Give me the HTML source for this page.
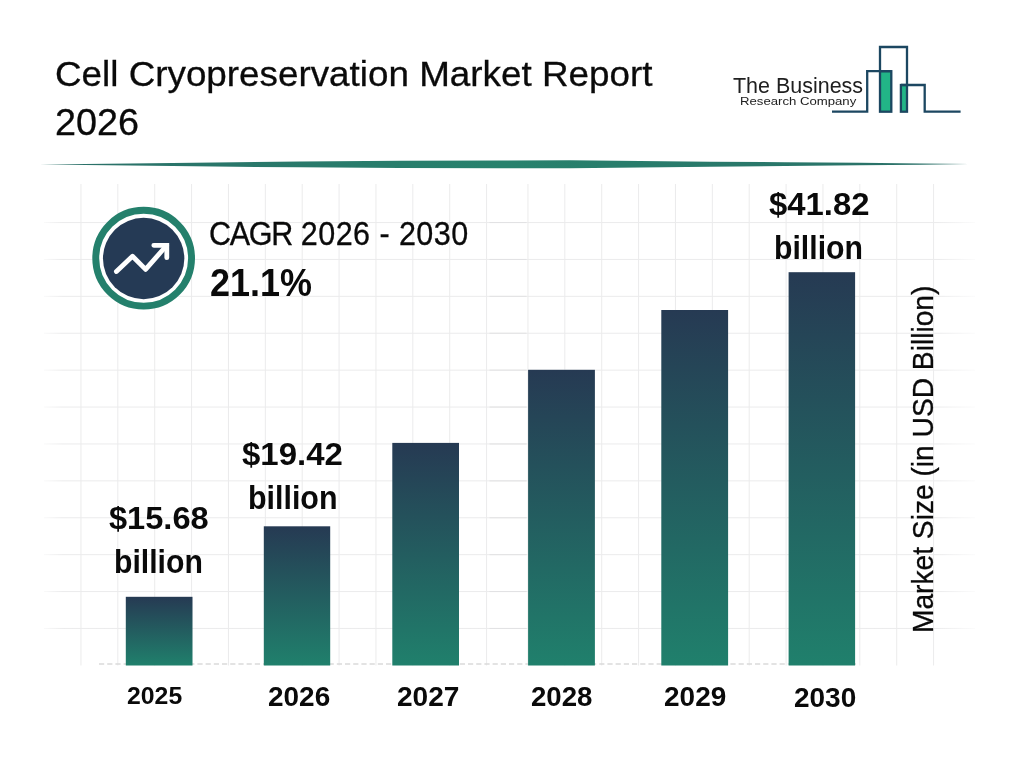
<!DOCTYPE html>
<html lang="en">
<head>
<meta charset="utf-8">
<title>Cell Cryopreservation Market Report 2026</title>
<style>
html,body{margin:0;padding:0;background:#fff;}
body{width:1024px;height:768px;position:relative;overflow:hidden;font-family:"Liberation Sans",Arial,sans-serif;}
#chart{position:absolute;left:0;top:0;width:1024px;height:768px;}
.tx{position:absolute;white-space:nowrap;line-height:1;transform-origin:0 50%;margin:0;padding:0;}
#ylab{position:absolute;white-space:nowrap;line-height:1;font-size:30px;color:#0a0a0a;transform-origin:0 0;-webkit-text-stroke:0.3px;}
</style>
</head>
<body>
<svg id="chart" width="1024" height="768" viewBox="0 0 1024 768">
<defs>
<linearGradient id="barg" x1="0" y1="0" x2="0" y2="1">
<stop offset="0" stop-color="#263a53"/>
<stop offset="1" stop-color="#20806c"/>
</linearGradient>
<linearGradient id="hfade" x1="0" y1="0" x2="1" y2="0">
<stop offset="0" stop-color="#ebebec" stop-opacity="0.3"/>
<stop offset="0.02" stop-color="#ebebec"/>
<stop offset="0.96" stop-color="#ebebec"/>
<stop offset="1" stop-color="#ebebec" stop-opacity="0.2"/>
</linearGradient>
<linearGradient id="divg" x1="0" y1="0" x2="1" y2="0">
<stop offset="0" stop-color="#2b6f68"/>
<stop offset="0.5" stop-color="#27826d"/>
<stop offset="1" stop-color="#2b6f68"/>
</linearGradient>
</defs>
<!-- divider -->
<path d="M40.0 164.60 L85.0 164.07 L130.0 163.54 L215.0 162.49 L300.0 161.53 L400.0 160.72 L500.0 160.40 L570.0 160.36 L640.0 160.96 L710.0 161.67 L785.0 162.27 L860.0 162.82 L920.0 163.43 L968.5 164.00 L920.0 164.63 L860.0 165.32 L785.0 165.97 L710.0 166.67 L640.0 167.46 L570.0 168.16 L500.0 168.20 L400.0 168.02 L300.0 167.33 L215.0 166.49 L130.0 165.54 L85.0 165.07 Z" fill="url(#divg)"/>
<!-- grid -->
<g>
<rect x="80.45" y="184" width="1" height="481.5" fill="#ebebec"/>
<rect x="117.33" y="184" width="1" height="481.5" fill="#ebebec"/>
<rect x="154.20" y="184" width="1" height="481.5" fill="#ebebec"/>
<rect x="191.07" y="184" width="1" height="481.5" fill="#ebebec"/>
<rect x="227.95" y="184" width="1" height="481.5" fill="#ebebec"/>
<rect x="264.82" y="184" width="1" height="481.5" fill="#ebebec"/>
<rect x="301.70" y="184" width="1" height="481.5" fill="#ebebec"/>
<rect x="338.57" y="184" width="1" height="481.5" fill="#ebebec"/>
<rect x="375.45" y="184" width="1" height="481.5" fill="#ebebec"/>
<rect x="412.32" y="184" width="1" height="481.5" fill="#ebebec"/>
<rect x="449.20" y="184" width="1" height="481.5" fill="#ebebec"/>
<rect x="486.07" y="184" width="1" height="481.5" fill="#ebebec"/>
<rect x="527.45" y="184" width="1" height="481.5" fill="#ebebec"/>
<rect x="564.33" y="184" width="1" height="481.5" fill="#ebebec"/>
<rect x="601.20" y="184" width="1" height="481.5" fill="#ebebec"/>
<rect x="638.08" y="184" width="1" height="481.5" fill="#ebebec"/>
<rect x="674.95" y="184" width="1" height="481.5" fill="#ebebec"/>
<rect x="711.83" y="184" width="1" height="481.5" fill="#ebebec"/>
<rect x="748.70" y="184" width="1" height="481.5" fill="#ebebec"/>
<rect x="785.58" y="184" width="1" height="481.5" fill="#ebebec"/>
<rect x="822.45" y="184" width="1" height="481.5" fill="#ebebec"/>
<rect x="859.33" y="184" width="1" height="481.5" fill="#ebebec"/>
<rect x="896.20" y="184" width="1" height="481.5" fill="#ebebec"/>
<rect x="933.08" y="184" width="1" height="481.5" fill="#ebebec"/>
<rect x="44" y="222.05" width="931" height="1" fill="url(#hfade)"/>
<rect x="489.5" y="222.05" width="37" height="1" fill="#e2e2e3"/>
<rect x="44" y="258.95" width="931" height="1" fill="url(#hfade)"/>
<rect x="489.5" y="258.95" width="37" height="1" fill="#e2e2e3"/>
<rect x="44" y="295.85" width="931" height="1" fill="url(#hfade)"/>
<rect x="489.5" y="295.85" width="37" height="1" fill="#e2e2e3"/>
<rect x="44" y="332.75" width="931" height="1" fill="url(#hfade)"/>
<rect x="489.5" y="332.75" width="37" height="1" fill="#e2e2e3"/>
<rect x="44" y="369.65" width="931" height="1" fill="url(#hfade)"/>
<rect x="489.5" y="369.65" width="37" height="1" fill="#e2e2e3"/>
<rect x="44" y="406.55" width="931" height="1" fill="url(#hfade)"/>
<rect x="489.5" y="406.55" width="37" height="1" fill="#e2e2e3"/>
<rect x="44" y="443.45" width="931" height="1" fill="url(#hfade)"/>
<rect x="489.5" y="443.45" width="37" height="1" fill="#e2e2e3"/>
<rect x="44" y="480.35" width="931" height="1" fill="url(#hfade)"/>
<rect x="489.5" y="480.35" width="37" height="1" fill="#e2e2e3"/>
<rect x="44" y="517.25" width="931" height="1" fill="url(#hfade)"/>
<rect x="489.5" y="517.25" width="37" height="1" fill="#e2e2e3"/>
<rect x="44" y="554.15" width="931" height="1" fill="url(#hfade)"/>
<rect x="489.5" y="554.15" width="37" height="1" fill="#e2e2e3"/>
<rect x="44" y="591.05" width="931" height="1" fill="url(#hfade)"/>
<rect x="489.5" y="591.05" width="37" height="1" fill="#e2e2e3"/>
<rect x="44" y="627.95" width="931" height="1" fill="url(#hfade)"/>
<rect x="489.5" y="627.95" width="37" height="1" fill="#e2e2e3"/>
</g>
<!-- baseline dashed -->
<line x1="99" y1="664" x2="856" y2="664" stroke="#dadada" stroke-width="1.4" stroke-dasharray="5.2 3"/>
<!-- bars -->
<g>
<rect x="125.8" y="596.8" width="66.7" height="68.7" fill="url(#barg)"/>
<rect x="263.8" y="526.3" width="66.4" height="139.2" fill="url(#barg)"/>
<rect x="392.3" y="442.9" width="66.7" height="222.6" fill="url(#barg)"/>
<rect x="528.1" y="369.8" width="66.8" height="295.7" fill="url(#barg)"/>
<rect x="661.3" y="310.0" width="66.8" height="355.5" fill="url(#barg)"/>
<rect x="788.6" y="272.2" width="66.5" height="393.3" fill="url(#barg)"/>
</g>
<!-- CAGR icon -->
<g>
<circle cx="143.65" cy="258.2" r="47.9" fill="#fff" stroke="#24806c" stroke-width="6.9"/>
<circle cx="143.65" cy="258.5" r="40.7" fill="#253a55"/>
<path d="M116.4 271.5 L132.5 256.2 L145.6 269.4 L166.6 245.5" fill="none" stroke="#fff" stroke-width="4.8" stroke-linecap="round" stroke-linejoin="round"/>
<path d="M153.8 245.3 L166.8 245.3 L166.8 257.7" fill="none" stroke="#fff" stroke-width="4.8" stroke-linecap="round" stroke-linejoin="miter"/>
</g>
<!-- logo -->
<g fill="none" stroke="#1c4761" stroke-width="2.3" stroke-linejoin="miter">
<rect x="880" y="71.2" width="11.3" height="40.5" fill="#22b587"/>
<rect x="900.9" y="85" width="6.1" height="26.7" fill="#22b587"/>
<path d="M832 111.7 H867.2 V71.2 H891.3"/>
<path d="M880 71.2 V47 H907 V85"/>
<path d="M900.9 85 H924.7 V111.7 H960.6"/>
</g>
</svg>
<div class="tx" id="t1" style="left:55.14px;top:57.47px;font-size:35.89px;font-weight:400;transform:scaleX(1.0261);color:#0a0a0a;-webkit-text-stroke:0.3px;">Cell Cryopreservation Market Report</div>
<div class="tx" id="t2" style="left:54.71px;top:103.78px;font-size:37.24px;font-weight:400;transform:scaleX(1.0147);color:#0a0a0a;-webkit-text-stroke:0.3px;">2026</div>
<div class="tx" id="cg1" style="left:208.74px;top:217.77px;font-size:32.4px;font-weight:400;transform:scaleX(0.9422);color:#0a0a0a;-webkit-text-stroke:0.3px;"><span style="letter-spacing:-1.4px">CAGR</span><span style="letter-spacing:0.47px"> 2026 - 2030</span></div>
<div class="tx" id="cg2" style="left:209.73px;top:263.90px;font-size:38.28px;font-weight:700;transform:scaleX(0.9391);color:#0a0a0a;">21.1%</div>
<div class="tx" id="v1a" style="left:109.09px;top:502.14px;font-size:32.03px;font-weight:700;transform:scaleX(1.0171);color:#0a0a0a;">$15.68</div>
<div class="tx" id="v1b" style="left:114.15px;top:546.11px;font-size:32.42px;font-weight:700;transform:scaleX(0.9319);color:#0a0a0a;">billion</div>
<div class="tx" id="v2a" style="left:242.00px;top:438.41px;font-size:32.06px;font-weight:700;transform:scaleX(1.0288);color:#0a0a0a;">$19.42</div>
<div class="tx" id="v2b" style="left:247.94px;top:482.12px;font-size:32.34px;font-weight:700;transform:scaleX(0.94);color:#0a0a0a;">billion</div>
<div class="tx" id="v6a" style="left:769.01px;top:188.04px;font-size:32.03px;font-weight:700;transform:scaleX(1.0251);color:#0a0a0a;">$41.82</div>
<div class="tx" id="v6b" style="left:773.83px;top:231.67px;font-size:32.34px;font-weight:700;transform:scaleX(0.9349);color:#0a0a0a;">billion</div>
<div class="tx" id="y1" style="left:127.08px;top:684.95px;font-size:23.15px;font-weight:700;transform:scaleX(1.0718);color:#0a0a0a;">2025</div>
<div class="tx" id="y2" style="left:267.52px;top:683.93px;font-size:26.84px;font-weight:700;transform:scaleX(1.0417);color:#0a0a0a;">2026</div>
<div class="tx" id="y3" style="left:397.26px;top:683.86px;font-size:26.92px;font-weight:700;transform:scaleX(1.0433);color:#0a0a0a;">2027</div>
<div class="tx" id="y4" style="left:531.11px;top:682.68px;font-size:27.13px;font-weight:700;transform:scaleX(1.0184);color:#0a0a0a;">2028</div>
<div class="tx" id="y5" style="left:663.92px;top:682.58px;font-size:27.13px;font-weight:700;transform:scaleX(1.0317);color:#0a0a0a;">2029</div>
<div class="tx" id="y6" style="left:793.85px;top:684.37px;font-size:27.62px;font-weight:700;transform:scaleX(1.0134);color:#0a0a0a;">2030</div>
<div class="tx" id="lg1" style="left:732.68px;top:74.77px;font-size:21.71px;font-weight:400;transform:scaleX(0.9893);color:#202020;">The Business</div>
<div class="tx" id="lg2" style="left:740.03px;top:95.72px;font-size:11.44px;font-weight:400;transform:scaleX(1.1501);color:#202020;">Research Company</div>
<div id="ylab" style="left:907.5px;top:633.4px;font-size:29.9px;transform:rotate(-90deg) scaleX(0.942);">Market Size (in USD Billion)</div>
</body>
</html>
